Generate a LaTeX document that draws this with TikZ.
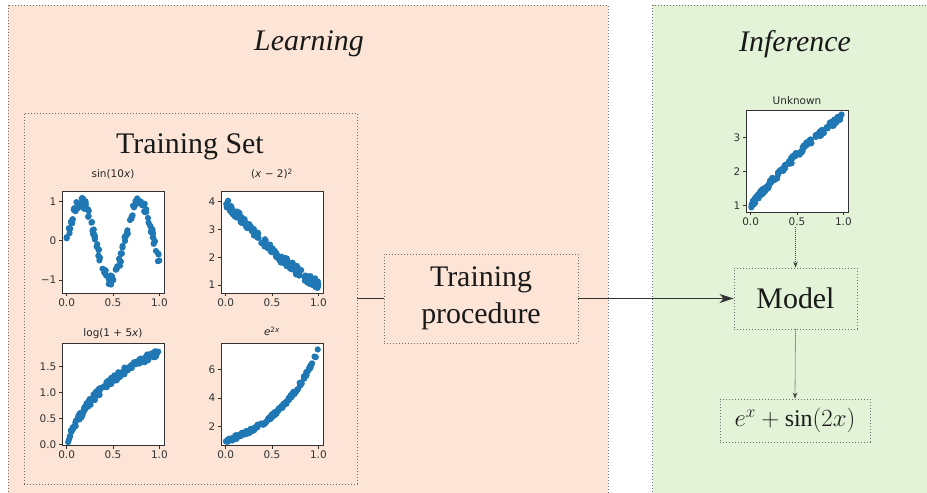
\documentclass[tikz,border=0pt]{standalone}
\usepackage{fontspec}
\setmainfont{Liberation Serif}
\newfontfamily\mplfont{DejaVu Sans}
\usetikzlibrary{arrows.meta}
\definecolor{peach}{RGB}{252,228,214}
\definecolor{mint}{RGB}{226,243,216}
\definecolor{mplblue}{RGB}{31,119,180}
\definecolor{boxgray}{RGB}{110,110,110}
\definecolor{axgray}{RGB}{50,50,50}
\definecolor{inkc}{RGB}{25,25,25}

\tikzset{
  regionbox/.style={draw=boxgray, line width=0.9bp, dash pattern=on 1bp off 2bp},
  dotbox/.style={draw=boxgray, line width=0.9bp, dash pattern=on 1bp off 2bp, inner sep=0pt, align=center, text=inkc},
  bigtext/.style={font=\fontsize{30}{37}\selectfont, text=inkc},
  axframe/.style={draw=axgray, line width=0.9bp},
  ticklab/.style={font=\mplfont\fontsize{10.5}{12}\selectfont, text=axgray, inner sep=0pt},
  plottitle/.style={font=\mplfont\fontsize{10.5}{12}\selectfont, text=black!85, inner sep=0pt, anchor=base},
  tickmark/.style={draw=axgray, line width=0.8bp},
  dotarrow/.style={draw=black!75, line width=0.8bp, dash pattern=on 1bp off 1bp, -{Stealth[length=6bp,width=4.5bp]}},
  mainline/.style={draw=black!80, line width=1.3bp},
}

% #1 name, #2 left px, #3 top px, #4 ymin, #5 ymax, #6 function of \xx, #7 noise, #8 y ticks
\newcommand\scplot[8]{%
  \begin{scope}[shift={(#2,#3)}]
    \node[fill=white, minimum width=102bp, minimum height=102bp, inner sep=0pt, anchor=north west] (#1) at (0,0) {};
    \begin{scope}
      \clip (0,0) rectangle (102,102);
      \foreach \k in {1,...,150}{
        \pgfmathsetmacro\xx{rnd}
        \pgfmathsetmacro\yy{#6+#7*rand}
        \fill[mplblue] ({4.636+92.73*\xx},{102*((#5)-(\yy))/((#5)-(#4))}) circle[radius=3.1bp];
      }
    \end{scope}
    \draw[axframe] (0,0) rectangle (102,102);
    \foreach \t/\l in {0/0.0, 0.5/0.5, 1/1.0}{
      \draw[tickmark] ({4.636+92.73*\t},102) -- ++(0,3.5);
      \node[ticklab, anchor=north] at ({4.636+92.73*\t},107.5) {\l};
    }
    \foreach \t/\l in {#8}{
      \draw[tickmark] (0,{102*((#5)-(\t))/((#5)-(#4))}) -- ++(-3.5,0);
      \node[ticklab, anchor=east] at (-5.5,{102*((#5)-(\t))/((#5)-(#4))}) {\l};
    }
  \end{scope}}

\begin{document}
\begin{tikzpicture}[x=1bp, y=-1bp]
  \useasboundingbox (0,0) rectangle (927,493);
  \clip (0,0) rectangle (927,493);
  \fill[white] (0,0) rectangle (927,493);
  \pgfmathsetseed{4242}

  % region boxes
  \draw[regionbox, fill=peach] (8,5) rectangle (608,510);
  \draw[regionbox, fill=mint] (652.7,5) rectangle (940,510);

  \node[bigtext, font=\fontsize{30}{37}\selectfont\itshape] (learning) at (309,44) {Learning};
  \node[bigtext, font=\fontsize{30}{37}\selectfont\itshape] (inference) at (795,44) {Inference};

  % training set
  \node[dotbox, minimum width=333bp, minimum height=371bp] (tset) at (190.5,298.5) {};
  \node[bigtext] (tsettitle) at (190,147) {Training Set};

  \scplot{psin}{62}{191}{-1.33}{1.27}{sin(deg(10*\xx))}{0.13}{1/1, 0/0, -1/−1}
  \scplot{psq}{221}{191}{0.71}{4.38}{(\xx-2)^2}{0.17}{1/1, 2/2, 3/3, 4/4}
  \scplot{plog}{62}{343}{-0.01}{1.96}{ln(1+5*\xx)}{0.07}{0/0.0, 0.5/0.5, 1/1.0, 1.5/1.5}
  \scplot{pexp}{221}{343}{0.70}{7.87}{exp(2*\xx)}{0.14}{2/2, 4/4, 6/6}
  \scplot{punk}{746}{110}{0.8}{3.8}{exp(\xx)+sin(deg(2*\xx))}{0.09}{1/1, 2/2, 3/3}

  \node[plottitle] (tsin) at (113,178) {sin(10\textit{x})};
  \node[plottitle] (tsq) at (272,178) {(\textit{x} − 2)\textsuperscript{2}};
  \node[plottitle] (tlog) at (113,337) {log(1 + 5\textit{x})};
  \node[plottitle] (texp) at (272,336) {\textit{e}\textsuperscript{2\textit{x}}};
  \node[plottitle] (tunk) at (797,105) {Unknown};

  % process nodes
  \node[dotbox, bigtext, minimum width=194bp, minimum height=89bp] (proc) at (481,298.5) {Training\\procedure};
  \node[dotbox, bigtext, minimum width=123bp, minimum height=61bp] (model) at (795.5,298.5) {Model};
  \node[dotbox, minimum width=150bp, minimum height=43bp] (formula) at (795,420.5) {\fontsize{24}{28}\selectfont$e^x+\sin(2x)$};

  \coordinate (unkbot) at (795.5,227);

  % connectors
  \draw[mainline] (tset.east) -- (proc.west);
  \draw[mainline, -{Stealth[length=14bp,width=9bp,inset=4bp]}] (proc.east) -- (model.west);
  \draw[dotarrow] (unkbot) -- (model.north);
  \draw[dotarrow] (model.south) -- (formula.north);
\end{tikzpicture}
\end{document}
